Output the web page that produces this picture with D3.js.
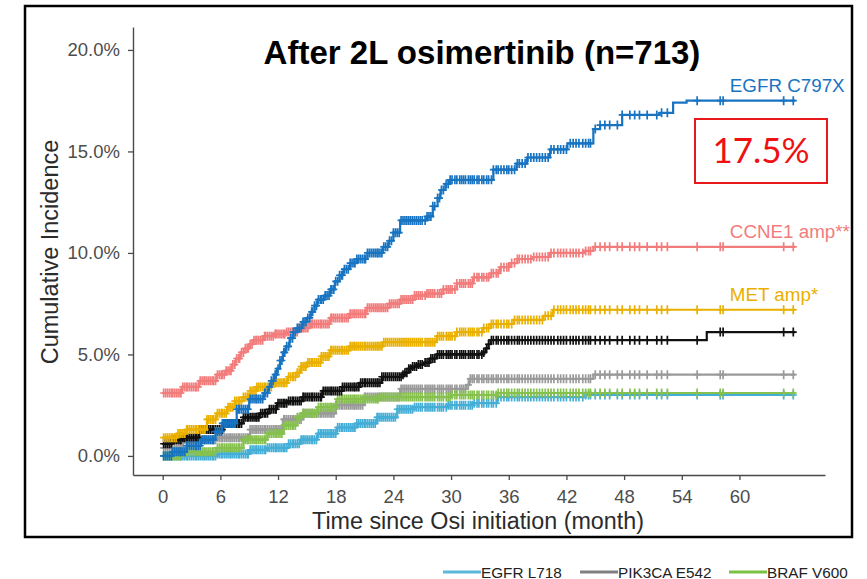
<!DOCTYPE html>
<html>
<head>
<meta charset="utf-8">
<script src="https://cdn.jsdelivr.net/npm/d3@7"></script>
<style>
  body { margin: 0; background: #fff; }
  svg { display: block; }
</style>
</head>
<body>
<svg id="chart" width="867" height="579"></svg>
<script>
// ---- data -------------------------------------------------------------
const chartTitle = "After 2L osimertinib (n=713)";
const xLabel = "Time since Osi initiation (month)";
const yLabel = "Cumulative Incidence";
const xTicks = [0, 6, 12, 18, 24, 30, 36, 42, 48, 54, 60];
const yTicks = [0, 5, 10, 15, 20];

// cumulative incidence steps: [month, percent]
const egfrC797X = [[0,0],[1,0.2],[2.5,0.5],[4,0.8],[5.5,1.2],[6.2,1.6],[7.7,2.3],[9,2.8],[10.5,3.1],[11.0,3.4],[11.3,3.7],[11.6,4.0],[11.9,4.3],[12.2,4.7],[12.5,5.1],[12.8,5.4],[13.2,5.8],[13.6,6.1],[14.0,6.3],[14.5,6.6],[15,6.8],[15.4,7.1],[15.8,7.4],[16.1,7.7],[16.8,7.9],[17.4,8.2],[17.9,8.6],[18.4,8.9],[18.8,9.2],[19.5,9.5],[20.2,9.7],[21.3,10.0],[22.9,10.3],[23.5,10.6],[24,11.0],[24.7,11.6],[27.5,11.8],[28.1,12.3],[28.6,12.7],[28.9,13.1],[29.4,13.4],[29.9,13.6],[34.4,14.1],[36.8,14.4],[37.9,14.7],[40.3,15.1],[42.1,15.4],[44.8,16.1],[45.5,16.3],[47.8,16.8],[51.7,16.9],[53.1,17.4],[54.5,17.5]];
const ccne1Amp = [[0,3.1],[2,3.4],[3.8,3.7],[5.6,4.0],[6.6,4.2],[7.2,4.5],[7.6,4.8],[8.1,5.1],[8.6,5.3],[9.0,5.5],[9.4,5.7],[10.5,5.9],[11.6,6.0],[12.9,6.1],[14.2,6.3],[15.3,6.5],[17.4,6.8],[19.4,7.0],[21.2,7.3],[23.6,7.5],[24.7,7.7],[26.2,7.9],[27.5,8.0],[29.2,8.2],[30.6,8.5],[32.3,8.8],[34.1,9.0],[35.1,9.3],[36.1,9.5],[36.9,9.7],[38.5,9.8],[40.3,10.0],[43.8,10.1],[44.8,10.3]];
const metAmp = [[0,0.9],[1.5,1.1],[2.5,1.3],[4.6,1.8],[5.6,2.1],[6.7,2.4],[7.5,2.7],[8.4,2.9],[9.1,3.2],[9.8,3.4],[11.5,3.6],[13,3.9],[14,4.1],[14.4,4.4],[15,4.6],[16.5,4.9],[17.4,5.2],[19.5,5.4],[22.9,5.6],[28.5,5.9],[30.6,6.1],[33.3,6.3],[34.1,6.5],[36.5,6.7],[39.6,6.9],[40.6,7.2]];
const otherBlack = [[0,0.6],[1,0.8],[2.1,0.9],[3.8,1.3],[6.3,1.6],[8.4,1.9],[10.1,2.1],[11.1,2.3],[11.9,2.6],[13.1,2.7],[14.6,2.9],[16.6,3.2],[18.7,3.4],[20.5,3.6],[22.8,3.9],[24.9,4.0],[25.2,4.1],[25.6,4.3],[25.9,4.4],[26.5,4.5],[27.1,4.6],[27.8,4.8],[28.5,5.0],[33.3,5.1],[33.6,5.3],[33.9,5.5],[34.1,5.7],[56.6,6.1]];
const pik3caE542 = [[0,0.4],[2.1,0.8],[5.6,0.9],[9.1,1.3],[12.5,1.8],[14.6,2.1],[18,2.5],[21,2.9],[24.7,3.3],[31.6,3.5],[31.9,3.8],[44.8,4.0]];
const brafV600 = [[0,0],[2.1,0.2],[5.6,0.4],[8.4,0.8],[10.9,1.1],[12.6,1.5],[14.0,1.9],[14.6,2.1],[16.1,2.4],[18.1,2.8],[22.6,2.9],[30,3.0],[34.8,3.1]];
const egfrL718 = [[0,0],[5.6,0.1],[9.1,0.3],[10.9,0.4],[13.1,0.6],[14.4,0.8],[16.1,1.1],[18.1,1.4],[20.2,1.6],[22.3,1.9],[24.4,2.3],[26.1,2.4],[29.6,2.5],[32.3,2.6],[34.8,2.9],[44,3.0]];

// censoring times shared by every curve (same cohort)
const censorTimes = [0.1,0.3,0.5,0.7,0.9,1.0,1.2,1.4,1.6,1.8,1.9,2.1,2.3,2.5,2.6,2.8,3.0,3.2,3.4,3.5,3.7,3.9,4.1,4.3,4.4,4.6,4.8,5.0,5.2,5.3,5.5,5.7,5.9,6.1,6.2,6.4,6.6,6.8,7.0,7.1,7.3,7.5,7.7,7.9,8.0,8.2,8.4,8.6,8.8,8.9,9.1,9.3,9.5,9.7,9.8,10.0,10.2,10.4,10.6,10.7,10.9,11.1,11.3,11.5,11.7,11.8,12.0,12.2,12.4,12.6,12.7,12.9,13.1,13.3,13.5,13.6,13.8,14.0,14.2,14.4,14.6,14.7,14.9,15.1,15.3,15.5,15.6,15.8,16.0,16.2,16.4,16.5,16.7,16.9,17.1,17.3,17.5,17.6,17.8,18.0,18.2,18.4,18.6,18.7,18.9,19.1,19.3,19.5,19.7,19.9,20.0,20.2,20.4,20.6,20.8,21.0,21.1,21.3,21.5,21.7,21.9,22.1,22.3,22.4,22.6,22.8,23.0,23.2,23.4,23.6,23.8,24.0,24.2,24.4,24.6,24.8,25.0,25.2,25.4,25.6,25.8,26.0,26.2,26.4,26.6,26.8,27.0,27.3,27.5,27.7,27.9,28.1,28.3,28.6,28.8,29.0,29.2,29.5,29.7,29.9,30.1,30.4,30.6,30.9,31.1,31.3,31.5,31.8,32.0,32.2,32.4,32.7,32.9,33.2,33.4,33.7,33.9,34.2,34.4,34.7,34.9,35.2,35.5,35.8,36.0,36.3,36.6,36.9,37.1,37.4,37.7,38.0,38.3,38.6,38.9,39.2,39.5,39.8,40.1,40.4,40.7,41.1,41.4,41.7,42.0,42.4,42.7,43.0,43.3,43.7,44.0,44.3,44.5,45.0,45.5,46.0,46.5,47.3,47.8,48.6,49.1,49.6,50.4,51.4,51.9,52.5,55.6,58.0,58.3,64.6,65.6];
const followUpEnd = 65.8;

const seriesNames = ["PIK3CA E542", "EGFR L718", "BRAF V600", "Other", "MET amp*", "CCNE1 amp**", "EGFR C797X"];
const seriesValues = [pik3caE542, egfrL718, brafV600, otherBlack, metAmp, ccne1Amp, egfrC797X];
const seriesColors = ["#9a9a9a", "#45aed6", "#86c04e", "#111111", "#e9b000", "#f27c7c", "#1874c1"];

const endLabels = ["EGFR C797X", "CCNE1 amp**", "MET amp*"];
const legendNames = ["EGFR L718", "PIK3CA E542", "BRAF V600"];
const legendColors = ["#5bb8d8", "#808080", "#7cc242"];
const highlightText = "17.5%";

// ---- drawing ----------------------------------------------------------
const svg = d3.select("#chart");
const font = "'Liberation Sans', Arial, sans-serif";

const x = d3.scaleLinear().domain([-3.09, 68.9]).range([133, 825]);
const y = d3.scaleLinear().domain([-0.94, 21.13]).range([475, 27]);

// outer frame
svg.append("rect")
  .attr("x", 25).attr("y", 6).attr("width", 827).attr("height", 531)
  .attr("fill", "none").attr("stroke", "#000").attr("stroke-width", 2.5);

// axes
const yAxis = svg.append("g").attr("transform", "translate(133,0)")
  .call(d3.axisLeft(y).tickValues(yTicks).tickFormat(d => d.toFixed(1) + "%")
    .tickSize(5).tickSizeOuter(0).tickPadding(8));
const xAxis = svg.append("g").attr("transform", "translate(0,475)")
  .call(d3.axisBottom(x).tickValues(xTicks).tickSize(5).tickSizeOuter(0).tickPadding(10));
[yAxis, xAxis].forEach(g => {
  g.select(".domain").attr("stroke", "#4a4a4a").attr("stroke-width", 1.4);
  g.selectAll(".tick line").attr("stroke", "#4a4a4a").attr("stroke-width", 1.3);
  g.selectAll(".tick text").attr("fill", "#4d4d4d")
    .style("font-family", font).style("font-size", "18.5px");
});

// titles
svg.append("text").attr("x", 482).attr("y", 64).attr("text-anchor", "middle")
  .style("font-family", font).style("font-size", "33px").style("font-weight", "bold")
  .attr("fill", "#000").text(chartTitle);
svg.append("text").attr("x", 478).attr("y", 529).attr("text-anchor", "middle")
  .style("font-family", font).style("font-size", "23.3px").attr("fill", "#2b2b2b").text(xLabel);
svg.append("text").attr("transform", "translate(58,252) rotate(-90)").attr("text-anchor", "middle")
  .style("font-family", font).style("font-size", "23.5px").attr("fill", "#2b2b2b").text(yLabel);

// step lookup
function valueAt(steps, t) {
  let v = steps[0][1];
  for (const [m, p] of steps) { if (m <= t) v = p; else break; }
  return v;
}

const line = d3.line().x(d => x(d[0])).y(d => y(d[1])).curve(d3.curveStepAfter);

seriesValues.forEach((steps, i) => {
  const color = seriesColors[i];
  const pts = steps.concat([[followUpEnd, steps[steps.length - 1][1]]]);
  const g = svg.append("g").attr("class", "series");
  g.append("path").datum(pts).attr("d", line)
    .attr("fill", "none").attr("stroke", color).attr("stroke-width", 2.2);
  // censor marks
  g.selectAll("path.censor").data(censorTimes).enter().append("path")
    .attr("class", "censor")
    .attr("d", t => {
      const cx = x(t), cy = y(valueAt(steps, t));
      return `M${cx - 3.5},${cy}H${cx + 3.5}M${cx},${cy - 4.5}V${cy + 4.5}`;
    })
    .attr("stroke", color).attr("stroke-width", 1.7).attr("fill", "none");
});

// curve-end labels
endLabels.forEach(name => {
  const i = seriesNames.indexOf(name);
  const steps = seriesValues[i];
  svg.append("text")
    .attr("x", x(59.0)).attr("y", y(steps[steps.length - 1][1]) - 9)
    .style("font-family", font).style("font-size", "18.8px")
    .attr("fill", seriesColors[i]).text(name);
});

// highlighted value box
svg.append("rect").attr("x", 695).attr("y", 119).attr("width", 132).attr("height", 64)
  .attr("fill", "#fff").attr("stroke", "#e8191b").attr("stroke-width", 2);
svg.append("text").attr("x", 761).attr("y", 163).attr("text-anchor", "middle")
  .style("font-family", "Lato, 'Open Sans', sans-serif").style("font-size", "35px")
  .attr("fill", "#ee1111").text(highlightText);

// legend below frame
const legendX = [443, 580, 729];
legendNames.forEach((name, i) => {
  const lg = svg.append("g").attr("transform", `translate(${legendX[i]},572)`);
  lg.append("line").attr("x1", 0).attr("x2", 38).attr("y1", 0).attr("y2", 0)
    .attr("stroke", legendColors[i]).attr("stroke-width", 3);
  lg.append("text").attr("x", 38).attr("y", 5.5)
    .style("font-family", font).style("font-size", "15.3px").attr("fill", "#222").text(name);
});
</script>
</body>
</html>
